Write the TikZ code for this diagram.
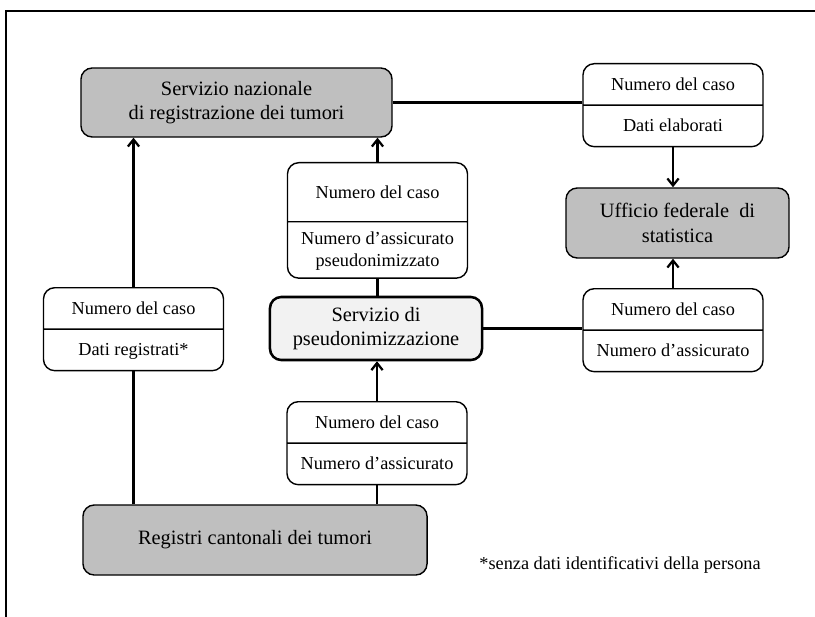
\documentclass[tikz,border=0pt]{standalone}
\usepackage{fontspec}
\setmainfont{Liberation Serif}
\usetikzlibrary{shapes.multipart, arrows.meta}
\definecolor{boxgray}{HTML}{BFBFBF}
\definecolor{palegray}{HTML}{F2F2F2}
\newcommand{\rw}{\rule[-10pt]{0pt}{28.5pt}}
\newcommand{\rwtall}{\rule[-16pt]{0pt}{41pt}}
\tikzset{
  mainbox/.style={draw, rounded corners=8pt, fill=boxgray, line width=1pt,
    align=center, font=\fontsize{14.5}{17.4}\selectfont},
  databox/.style={draw, rectangle split, rectangle split parts=2,
    rounded corners=8pt, fill=white, line width=1pt, minimum width=4.5cm,
    inner ysep=0pt, align=center, font=\fontsize{13}{15.6}\selectfont},
  link/.style={line width=1.6pt},
  >={Straight Barb[length=5pt, width=8pt]},
}
\begin{document}
\begin{tikzpicture}[x=0.025cm, y=-0.025cm]
    \useasboundingbox (0,0) rectangle (815,617);
    \draw[line width=2pt] (6,617) -- (6,11) -- (815,11);
    % grey boxes
    \node[mainbox, minimum width=7.775cm, minimum height=1.725cm] (nat) at (236.5,102.5) {Servizio nazionale\\di registrazione dei tumori};
    \node[mainbox, minimum width=5.575cm, minimum height=1.75cm] (uff) at (677.5,223) {Ufficio federale\ \ di\\statistica};
    \node[mainbox, fill=palegray, line width=1.8pt, minimum width=5.3cm, minimum height=1.575cm] (pseudo) at (376,328.5) {Servizio di\\pseudonimizzazione};
    \node[mainbox, minimum width=8.6cm, minimum height=1.75cm] (reg) at (255,540) {Registri cantonali dei tumori};
    % data boxes
    \node[databox, anchor=north] (tr) at (673,63) {\rw Numero del caso \nodepart{two} \rw Dati elaborati};
    \node[databox, anchor=north] (mr) at (673,288) {\rw Numero del caso \nodepart{two} \rw Numero d'assicurato};
    \node[databox, anchor=north] (ct) at (377.5,162) {\rwtall Numero del caso \nodepart{two} \rule{0pt}{16pt}Numero d'assicurato\\pseudonimizzato\rule[-7.5pt]{0pt}{0pt}};
    \node[databox, anchor=north] (cb) at (377,401) {\rw Numero del caso \nodepart{two} \rw Numero d'assicurato};
    \node[databox, anchor=north] (lb) at (133.5,287) {\rw Numero del caso \nodepart{two} \rw Dati registrati*};
    \node[font=\fontsize{13}{15.6}\selectfont] (note) at (620,565) {*senza dati identificativi della persona};
    % connectors
    \draw[link, ->] (lb.north) -- (lb.north |- nat.south);
    \draw[link] (reg.north -| lb.south) -- (lb.south);
    \draw[link, ->] (ct.north) -- (ct.north |- nat.south);
    \draw[link] (pseudo.north -| ct.south) -- (ct.south);
    \draw[link, ->] (cb.north) -- (cb.north |- pseudo.south);
    \draw[link] (reg.north -| cb.south) -- (cb.south);
    \draw[link] (nat.east) -- (nat.east -| tr.west);
    \draw[link, ->] (tr.south) -- (tr.south |- uff.north);
    \draw[link, ->] (mr.north) -- (mr.north |- uff.south);
    \draw[link] (pseudo.east) -- (pseudo.east -| mr.west);
\end{tikzpicture}
\end{document}
